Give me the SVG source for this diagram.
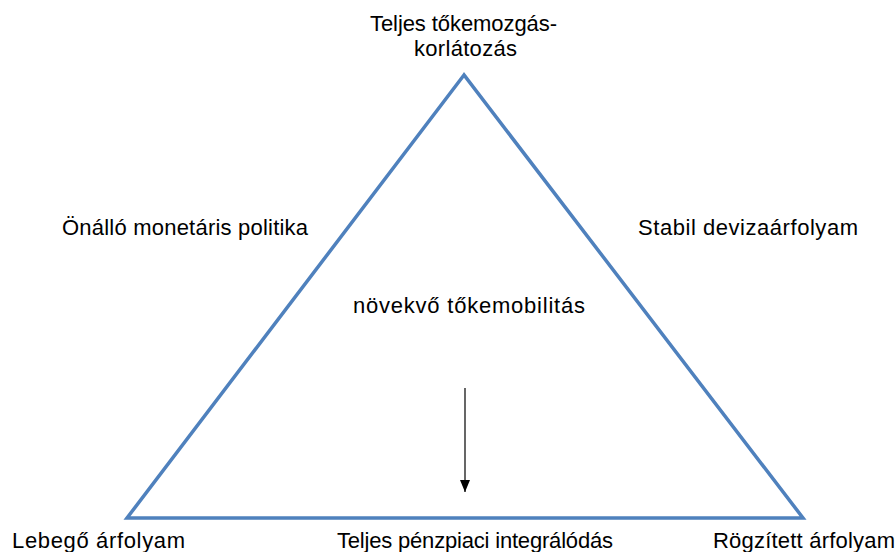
<svg xmlns="http://www.w3.org/2000/svg" width="896" height="552" viewBox="0 0 896 552">
<defs>
<style>
text{font-family:"Liberation Sans",Arial,sans-serif;font-size:22px;fill:#000}
</style>
<marker id="ah" markerWidth="12" markerHeight="10" refX="12" refY="5" orient="auto" markerUnits="userSpaceOnUse" viewBox="0 0 12 10">
<path d="M0,0 L12,5 L0,10 Z" fill="#000"/>
</marker>
</defs>
<rect width="896" height="552" fill="#fff"/>
<g id="connectors">
<polygon id="triangle" points="464,75 127,518 803,518" fill="none" stroke="#4F81BD" stroke-width="3.5" stroke-linejoin="miter"/>
<line x1="465" y1="388" x2="465" y2="492" stroke="#000" stroke-width="1.2" marker-end="url(#ah)"/>
</g>
<g id="top"><text x="370" y="31" textLength="187" lengthAdjust="spacing">Teljes tőkemozgás-</text><text x="414" y="56" textLength="103" lengthAdjust="spacing">korlátozás</text></g>
<g id="left-side"><text x="62" y="235" textLength="246" lengthAdjust="spacing">Önálló monetáris politika</text></g>
<g id="right-side"><text x="638" y="235" textLength="220" lengthAdjust="spacing">Stabil devizaárfolyam</text></g>
<g id="center"><text x="353" y="313" textLength="232" lengthAdjust="spacing">növekvő tőkemobilitás</text></g>
<g id="bottom-left"><text x="12" y="548" textLength="173" lengthAdjust="spacing">Lebegő árfolyam</text></g>
<g id="bottom"><text x="337" y="548" textLength="276" lengthAdjust="spacing">Teljes pénzpiaci integrálódás</text></g>
<g id="bottom-right"><text x="713" y="548" textLength="182" lengthAdjust="spacing">Rögzített árfolyam</text></g>
</svg>
